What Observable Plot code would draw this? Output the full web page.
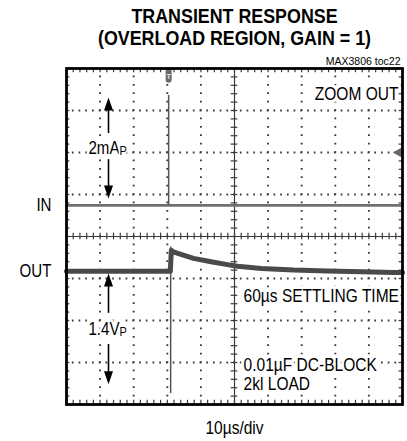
<!DOCTYPE html>
<html><head><meta charset="utf-8">
<script src="https://cdn.jsdelivr.net/npm/d3@7"></script>
<script src="https://cdn.jsdelivr.net/npm/@observablehq/plot@0.6"></script>
<style>body{margin:0;background:#fff}svg{display:block}</style>
</head><body><div id="chart"></div>
<script>
// ---- content ----
const titleLines = ["TRANSIENT RESPONSE", "(OVERLOAD REGION, GAIN = 1)"];
const chartId = "MAX3806 toc22";
const xLabel = "10µs/div";
const zoomLabel = "ZOOM OUT";
const noteLines = ["60µs SETTLING TIME", "0.01µF DC-BLOCK", "2kl LOAD"];
const noteLevels = [-1.43, -3.05, -3.52];
const traceNames = ["IN", "OUT"];
const traceLevels = [0.74, -0.83];
// IN trace (divisions)
const inX = [0, 10];
const inY = [0.74, 0.74];
// OUT trace (divisions)
const outX = [0, 3.09, 3.12, 3.2, 3.5, 3.78, 4.3, 4.79, 5.09, 5.8, 6.76, 7.77, 8.8, 9.73, 10];
const outY = [-0.83, -0.83, -0.33, -0.37, -0.45, -0.52, -0.60, -0.67, -0.71, -0.76, -0.80, -0.82, -0.84, -0.86, -0.86];
// glitches at the trigger
const spikeX = [3.04, 3.10];
const spikeLow = [0.74, -3.74];
const spikeHigh = [3.36, -0.25];
// scale annotations
const scaleText = ["2mA", "1.4V"];
const scaleSub = ["P", "P"];
const scaleMid = [2.1, -2.2];
const arrowTop = [3.31, -0.88];
const arrowBottom = [0.905, -3.52];
const gapTop = [2.45, -1.83];
const gapBottom = [1.83, -2.57];
const arrowX = 1.25;
// graticule
const majorX = [1, 2, 3, 4, 6, 7, 8, 9];
const majorY = [-3, -2, -1, 1, 2, 3];
const minorX = d3.range(0, 10.001, 0.2);
const minorY = d3.range(-4, 4.001, 0.2);
const triggerX = 3.04;
const levelMarkY = 2.0;

const font = "'Liberation Sans',Arial,sans-serif";
const gridC = "#3a3a3a";
const headUp = {draw(ctx) { ctx.moveTo(0, 0); ctx.lineTo(-4.5, 13); ctx.lineTo(4.5, 13); ctx.closePath(); }};
const ids = d3.range(scaleText.length);

const plot = Plot.plot({
  width: 407, height: 441,
  marginLeft: 66, marginRight: 5, marginTop: 68, marginBottom: 37,
  x: {domain: [0, 10], axis: null},
  y: {domain: [-4, 4], axis: null},
  style: {fontFamily: font, background: "#fff"},
  marks: [
    Plot.gridX(majorX, {stroke: gridC, strokeOpacity: 1, strokeWidth: 1.9, strokeDasharray: "1.7,6.7", strokeDashoffset: 0.85}),
    Plot.gridY(majorY, {stroke: gridC, strokeOpacity: 1, strokeWidth: 1.9, strokeDasharray: "1.7,5.02", strokeDashoffset: 0.85}),
    Plot.ruleY([0], {stroke: gridC, strokeWidth: 1.2}),
    Plot.ruleX([5], {stroke: gridC, strokeWidth: 1.2}),
    Plot.ruleX(minorX, {x: d => d, y1: -0.08, y2: 0.08, stroke: gridC, strokeWidth: 1.2}),
    Plot.ruleY(minorY, {y: d => d, x1: 4.9, x2: 5.1, stroke: gridC, strokeWidth: 1.2}),
    Plot.ruleX(minorX, {x: d => d, y1: 4, y2: 3.9, stroke: gridC, strokeWidth: 1.2}),
    Plot.ruleX(minorX, {x: d => d, y1: -4, y2: -3.9, stroke: gridC, strokeWidth: 1.2}),
    Plot.ruleY(minorY, {y: d => d, x1: 0, x2: 0.1, stroke: gridC, strokeWidth: 1.2}),
    Plot.ruleY(minorY, {y: d => d, x1: 10, x2: 9.9, stroke: gridC, strokeWidth: 1.2}),
    // traces
    Plot.line(inX.map((x, i) => ({x, y: inY[i]})), {x: "x", y: "y", stroke: "#707070", strokeWidth: 2.6}),
    Plot.ruleX(d3.range(spikeX.length), {x: i => spikeX[i], y1: i => spikeLow[i], y2: i => spikeHigh[i], stroke: "#555", strokeWidth: 1.5}),
    Plot.line(outX.map((x, i) => ({x, y: outY[i]})), {x: "x", y: "y", stroke: "#4a4a4a", strokeWidth: 5, curve: "linear"}),
    // trigger marker & level marker
    Plot.ruleX([triggerX], {x: d => d, y1: 3.93, y2: 3.72, stroke: "#6a6a6a", strokeWidth: 6, strokeLinecap: "round"}),
    Plot.text(["T"], {x: triggerX, y: 3.82, text: d => d, fill: "#ddd", fontSize: 8, fontWeight: "bold"}),
    Plot.dot([levelMarkY], {x: 10, y: d => d, symbol: "triangle", rotate: -90, r: 3.6, fill: "#666", stroke: "none", dx: -4}),
    // scale arrows
    Plot.ruleX(ids, {x: arrowX, y1: i => arrowTop[i] - 0.2, y2: i => gapTop[i], stroke: "#000", strokeWidth: 1.6}),
    Plot.ruleX(ids, {x: arrowX, y1: i => gapBottom[i], y2: i => arrowBottom[i] + 0.2, stroke: "#000", strokeWidth: 1.6}),
    Plot.dot(ids, {x: arrowX, y: i => arrowTop[i], symbol: headUp, fill: "#000", stroke: "none"}),
    Plot.dot(ids, {x: arrowX, y: i => arrowBottom[i], symbol: headUp, rotate: 180, fill: "#000", stroke: "none"}),
    Plot.text(ids, {x: arrowX, y: i => scaleMid[i], text: i => scaleText[i], textAnchor: "end", dx: 11, fontSize: 18, fill: "#000", stroke: "white", strokeWidth: 6}),
    Plot.text(ids, {x: arrowX, y: i => scaleMid[i], text: i => scaleSub[i], textAnchor: "start", dx: 11, dy: 3, fontSize: 13, fill: "#000", stroke: "white", strokeWidth: 4}),
    // trace names
    Plot.text(traceNames, {x: 0, y: (d, i) => traceLevels[i], text: d => d, textAnchor: "end", dx: -15, fontSize: 18, fill: "#000"}),
    // notes
    Plot.text([zoomLabel], {x: 10, y: 3.4, text: d => d, textAnchor: "end", dx: -4, fontSize: 18.5, fill: "#000", stroke: "white", strokeWidth: 7}),
    Plot.text(noteLines, {x: 5.27, y: (d, i) => noteLevels[i], text: d => d, textAnchor: "start", fontSize: 18.5, fill: "#000", stroke: "white", strokeWidth: 7}),
    // titles and labels outside the frame
    Plot.text([titleLines[0]], {frameAnchor: "top", lineAnchor: "middle", dy: -52, text: d => d, fontSize: 21, fontWeight: "bold", fill: "#000"}),
    Plot.text([titleLines[1]], {frameAnchor: "top", lineAnchor: "middle", dy: -30, text: d => d, fontSize: 21, fontWeight: "bold", fill: "#000"}),
    Plot.text([chartId], {frameAnchor: "top-right", lineAnchor: "middle", dy: -7, dx: -2, text: d => d, textAnchor: "end", fontSize: 10.5, fill: "#000"}),
    Plot.text([xLabel], {frameAnchor: "bottom", lineAnchor: "middle", dy: 24, text: d => d, fontSize: 18.5, fill: "#000"}),
    Plot.frame({stroke: "#000", strokeWidth: 2.8})
  ]
});
// narrow (condensed) lettering like the original
d3.select(plot).selectAll("text").each(function() {
  const s = this.textContent;
  if (s === chartId || s === "T") return;
  const k = titleLines.includes(s) ? 0.85 : 0.84;
  let t = this.getAttribute("transform");
  if (!t) {
    t = `translate(${this.getAttribute("x") || 0},${this.getAttribute("y") || 0})`;
    this.removeAttribute("x"); this.removeAttribute("y");
  }
  this.setAttribute("transform", t + ` scale(${k},1)`);
});
document.getElementById("chart").append(plot);
</script>
</body></html>
